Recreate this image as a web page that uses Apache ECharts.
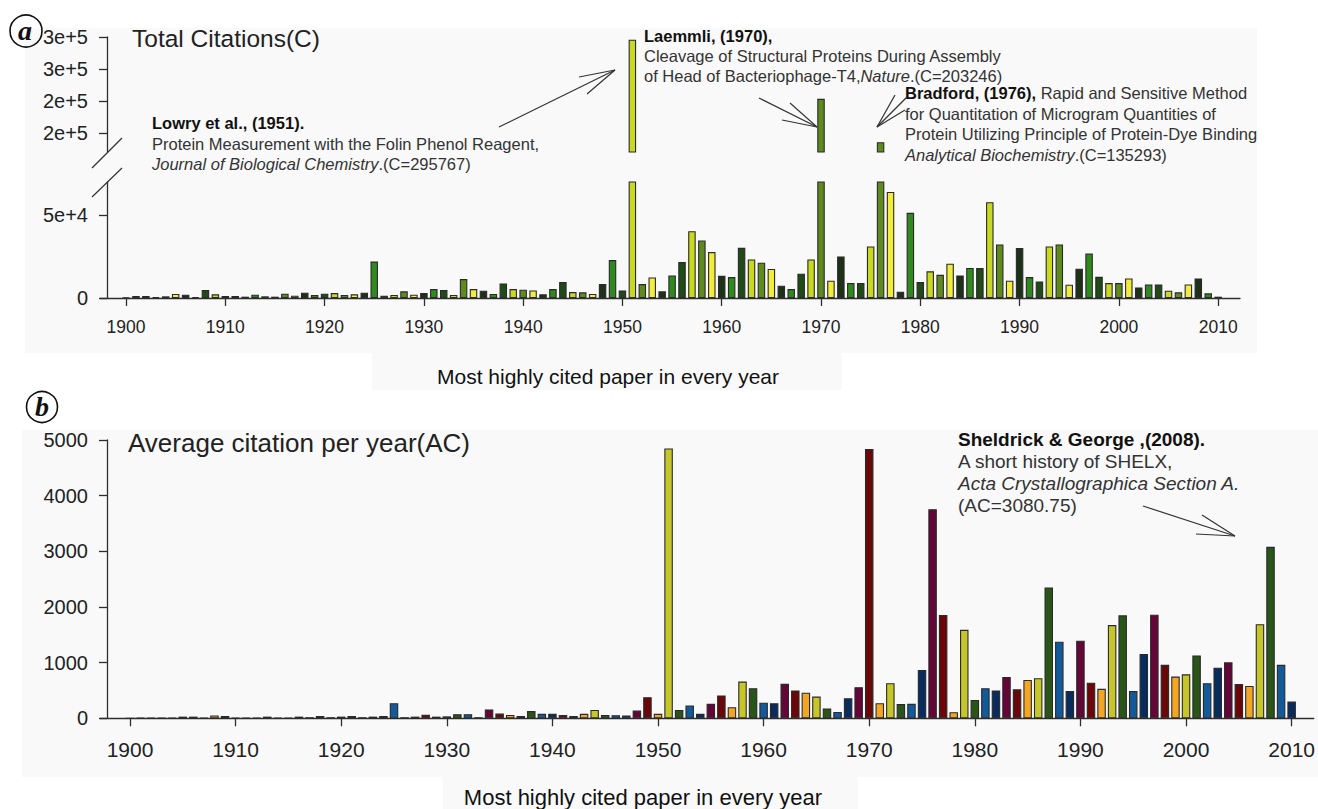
<!DOCTYPE html>
<html><head><meta charset="utf-8">
<script src="https://cdn.jsdelivr.net/npm/echarts@6/dist/echarts.min.js"></script>
<style>html,body{margin:0;padding:0;background:#fff}#main{width:1318px;height:809px}</style>
</head><body><div id="main"></div>
<script>
// ---------------- DATA ----------------
const years = [1900,1901,1902,1903,1904,1905,1906,1907,1908,1909,
1910,1911,1912,1913,1914,1915,1916,1917,1918,1919,
1920,1921,1922,1923,1924,1925,1926,1927,1928,1929,
1930,1931,1932,1933,1934,1935,1936,1937,1938,1939,
1940,1941,1942,1943,1944,1945,1946,1947,1948,1949,
1950,1951,1952,1953,1954,1955,1956,1957,1958,1959,
1960,1961,1962,1963,1964,1965,1966,1967,1968,1969,
1970,1971,1972,1973,1974,1975,1976,1977,1978,1979,
1980,1981,1982,1983,1984,1985,1986,1987,1988,1989,
1990,1991,1992,1993,1994,1995,1996,1997,1998,1999,
2000,2001,2002,2003,2004,2005,2006,2007,2008,2009,2010];

// Total citations (C) of the most highly cited paper of each year
const totalCitations = [300,1200,1200,600,1000,2400,2000,600,4800,2200,
1200,1200,800,2000,1000,800,2600,1400,3200,1800,
2600,3000,1800,2200,3200,22000,1400,1800,4000,2000,
3000,5400,4800,1800,11400,5400,4400,2400,8800,5400,
5000,4600,2200,5400,9600,3600,3400,2400,8400,22900,
4600,295767,8400,12400,4000,13600,21700,40300,34700,27700,
13400,12600,30300,23300,21300,17500,7400,5400,14700,23300,
203246,10400,25100,9000,9000,31100,135293,64000,3800,51400,
9600,16100,14000,20700,13600,18100,18100,57800,32300,10400,
30100,12600,10000,31100,32300,8000,17700,26900,12800,9000,
9000,11800,6400,8200,8200,4400,3400,8200,11800,2800,800];

// Average citation per year (AC)
const avgCitations = [3,10,10,5,9,30,30,6,50,40,
10,10,8,30,8,8,30,20,40,20,
30,40,20,30,40,270,20,30,65,30,
35,75,75,20,160,85,60,40,130,80,
80,60,40,80,150,60,55,50,140,380,
80,4849,150,230,80,260,410,200,660,540,
280,270,620,500,460,390,175,115,360,560,
4839,270,630,255,260,870,3758,1855,110,1590,
330,540,500,740,520,690,720,2350,1375,490,
1395,640,530,1675,1850,490,1155,1860,960,750,
790,1130,630,910,1005,615,580,1690,3080.75,960,300];

const xTickYears = [1900,1910,1920,1930,1940,1950,1960,1970,1980,1990,2000,2010];
const upperTicks = [150000,200000,250000,300000];
const upperTickLabels = ['2e+5','2e+5','3e+5','3e+5'];
const lowerTicks = [0,50000];
const lowerTickLabels = ['0','5e+4'];
const acTicks = [0,1000,2000,3000,4000,5000];
const acTickLabels = ['0','1000','2000','3000','4000','5000'];

// ---------------- STYLE ----------------
const FONT = '"Liberation Sans", Arial, Helvetica, sans-serif';
const SERIF = '"Liberation Serif", "DejaVu Serif", serif';
const AX = '#2e2e2e';
const paletteA = ['#1c3117','#2f8a1d','#1e4b16','#c9d91f','#5e8b1b','#f2ec3a'];
const paletteB = ['#6b0709','#f2a623','#c6c62a','#2a5519','#135a9a','#082c5e','#640638'];
const upperMin = 120000, upperMax = 300000, lowerMax = 70000;

const pairsC = years.map((y, i) => [y, totalCitations[i]]);
const pairsUpper = pairsC.filter(p => p[1] > upperMin);
const pairsAC = years.map((y, i) => [y, avgCitations[i]]);

function lookup(ticks, labels) {
  return v => { const k = ticks.indexOf(v); return k >= 0 ? labels[k] : ''; };
}

const axisLineStyle = { color: AX, width: 1.3 };
function xAxisCfg(gi, min, max, show, fs, margin) {
  return {
    type: 'value', gridIndex: gi, min: min, max: max, show: show,
    splitLine: { show: false },
    axisLine: { show: true, onZero: false, lineStyle: axisLineStyle },
    axisTick: { show: true, length: 8, lineStyle: axisLineStyle, customValues: xTickYears },
    axisLabel: { show: true, customValues: xTickYears, margin: margin, fontSize: fs,
      fontFamily: FONT, color: '#222', formatter: v => String(v) }
  };
}
function yAxisCfg(gi, min, max, ticks, fmt) {
  return {
    type: 'value', gridIndex: gi, min: min, max: max, offset: -7,
    splitLine: { show: false },
    axisLine: { show: true, lineStyle: axisLineStyle },
    axisTick: { show: true, length: 8, lineStyle: axisLineStyle, customValues: ticks },
    axisLabel: { show: true, customValues: ticks, margin: 19, fontSize: 20,
      fontFamily: FONT, color: '#222', formatter: fmt }
  };
}
function barSeries(xi, yi, data, pal, n, w) {
  return {
    type: 'bar', xAxisIndex: xi, yAxisIndex: yi, data: data, barWidth: w,
    clip: true, silent: true, animation: false,
    itemStyle: { color: p => pal[(p.value[0] - 1900) % n], borderColor: '#2a2a2a', borderWidth: 1.1 }
  };
}

function line(x1, y1, x2, y2) {
  return { type: 'line', shape: { x1, y1, x2, y2 }, style: { stroke: '#333', lineWidth: 1.2 }, silent: true, z: 50 };
}
function txt(text, x, y, size, opts) {
  return { type: 'text', silent: true, z: 50,
    style: Object.assign({ text: text, x: x, y: y, fontSize: size, fontFamily: FONT, fill: '#333',
      textVerticalAlign: 'middle', textAlign: 'left' }, opts || {}) };
}
function rich(text, x, y, size) {
  return { type: 'text', silent: true, z: 50,
    style: { text: text, x: x, y: y, textVerticalAlign: 'middle', textAlign: 'left',
      fontSize: size, fontFamily: FONT, fill: '#333',
      rich: {
        b: { fontWeight: 'bold', fontSize: size, fontFamily: FONT, fill: '#111' },
        n: { fontSize: size, fontFamily: FONT, fill: '#333' },
        i: { fontStyle: 'italic', fontSize: size, fontFamily: FONT, fill: '#333' }
      } } };
}
const bg = '#f9f9f9';
function rect(x, y, w, h) {
  return { type: 'rect', shape: { x, y, width: w, height: h }, style: { fill: bg }, silent: true, z: -100 };
}

const chart = echarts.init(document.getElementById('main'), null, { renderer: 'svg' });
chart.setOption({
  animation: false,
  backgroundColor: '#ffffff',
  grid: [
    { left: 100, top: 37, width: 1140, height: 115 },
    { left: 100, top: 182, width: 1140, height: 116 },
    { left: 100, top: 440, width: 1215, height: 278.3 }
  ],
  xAxis: [
    xAxisCfg(0, 1897.38, 2012.2, false, 17.5, 20),
    xAxisCfg(1, 1897.38, 2012.2, true, 17.5, 20),
    xAxisCfg(2, 1897.16, 2012.1, true, 21, 21)
  ],
  yAxis: [
    yAxisCfg(0, upperMin, upperMax, upperTicks, lookup(upperTicks, upperTickLabels)),
    yAxisCfg(1, 0, lowerMax, lowerTicks, lookup(lowerTicks, lowerTickLabels)),
    yAxisCfg(2, 0, 5000, acTicks, lookup(acTicks, acTickLabels))
  ],
  series: [
    barSeries(0, 0, pairsUpper, paletteA, 6, 7.5),
    barSeries(1, 1, pairsC, paletteA, 6, 7.5),
    barSeries(2, 2, pairsAC, paletteB, 7, 8.5)
  ],
  graphic: [
    rect(25, 28, 1232, 325), rect(372, 353, 470, 37),
    rect(22, 430, 1296, 347), rect(443, 777, 415, 32),
    // axis break
    line(92, 168, 122, 138), line(92, 197, 122, 168),
    // circled panel letters
    { type: 'circle', shape: { cx: 26, cy: 31, r: 16 }, style: { fill: 'none', stroke: '#111', lineWidth: 1.6 }, z: 50 },
    txt('a', 25, 30, 28, { fontFamily: SERIF, fontStyle: 'italic', fontWeight: 'bold', textAlign: 'center', fill: '#111' }),
    { type: 'circle', shape: { cx: 42, cy: 407, r: 15.5 }, style: { fill: 'none', stroke: '#111', lineWidth: 1.6 }, z: 50 },
    txt('b', 42, 406, 28, { fontFamily: SERIF, fontStyle: 'italic', fontWeight: 'bold', textAlign: 'center', fill: '#111' }),
    // titles
    txt('Total Citations(C)', 132, 38, 24.5, { fill: '#222' }),
    txt('Average citation per year(AC)', 128, 443, 26, { fill: '#222' }),
    txt('Most highly cited paper in every year', 608, 376, 21, { textAlign: 'center', fill: '#111' }),
    txt('Most highly cited paper in every year', 643, 797, 22, { textAlign: 'center', fill: '#111' }),
    // Lowry
    rich('{b|Lowry et al., (1951).}', 152, 123, 16.5),
    rich('{n|Protein Measurement with the Folin Phenol Reagent,}', 152, 144, 16.5),
    rich('{i|Journal of Biological Chemistry}{n|.(C=295767)}', 152, 164, 16.5),
    line(499, 127, 615, 70), line(615, 70, 579, 77), line(615, 70, 587, 94),
    // Laemmli
    rich('{b|Laemmli, (1970),}', 644, 36, 16.5),
    rich('{n|Cleavage of Structural Proteins During Assembly}', 644, 56, 16.5),
    rich('{n|of Head of Bacteriophage-T4,}{i|Nature}{n|.(C=203246)}', 644, 76, 16.5),
    line(759, 98, 817, 127), line(817, 127, 790, 103), line(817, 127, 782, 120),
    // Bradford
    rich('{b|Bradford, (1976),}{n| Rapid and Sensitive Method}', 905, 93, 16.5),
    rich('{n|for Quantitation of Microgram Quantities of}', 905, 114, 16.5),
    rich('{n|Protein Utilizing Principle of Protein-Dye Binding}', 905, 134, 16.5),
    rich('{i|Analytical Biochemistry}{n|.(C=135293)}', 905, 155, 16.5),
    line(907, 97, 877, 127), line(877, 127, 895, 95), line(877, 127, 905, 110),
    // Sheldrick
    rich('{b|Sheldrick & George ,(2008).}', 958, 439, 19),
    rich('{n|A short history of SHELX,}', 958, 461, 19),
    rich('{i|Acta Crystallographica Section A.}', 958, 483, 19),
    rich('{n|(AC=3080.75)}', 958, 505, 19),
    line(1143, 506, 1235, 536), line(1235, 536, 1202, 515), line(1235, 536, 1196, 534)
  ]
});
</script></body></html>
